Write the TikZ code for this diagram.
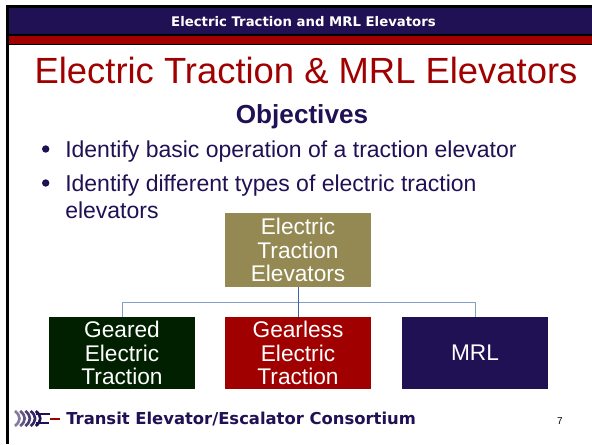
\documentclass[tikz,border=0pt]{standalone}
\usepackage{fontspec}
\setmainfont{Liberation Sans}
\newfontfamily\vfont{DejaVu Sans}
\definecolor{navy}{RGB}{32,16,84}
\definecolor{crimson}{RGB}{160,0,0}
\definecolor{olive}{RGB}{148,137,82}
\definecolor{dkgreen}{RGB}{0,32,0}
\definecolor{linklight}{RGB}{130,160,195}
\definecolor{linkdark}{RGB}{60,100,160}
\tikzset{
 x=0.75pt,y=-0.75pt,
 orgbox/.style={minimum width=109.5pt,inner sep=0pt,text=white,align=center,font=\fontsize{17}{17.8}\selectfont},
 link/.style={draw=linklight,line width=0.75pt},
 linkv/.style={draw=linkdark,line width=0.75pt},
 bodytext/.style={text=navy,font=\fontsize{17.25}{20}\selectfont,anchor=base west,inner sep=0pt}
}
\begin{document}
\begin{tikzpicture}
\useasboundingbox (0,0) rectangle (592,444);
\fill[white] (0,0) rectangle (592,444);
\fill[black] (6,5) rectangle (592,8);
\fill[black] (6,8) rectangle (9,444);
\fill[navy] (9,8) rectangle (592,34);
\fill[black] (9,34) rectangle (592,36);
\fill[crimson] (9,36) rectangle (592,44);
\fill[black] (6,44) rectangle (592,45);
\node[text=white,font=\vfont\fontsize{9.95}{11}\selectfont\bfseries] (hdr) at (303.5,22) {Electric Traction and MRL Elevators};
\node[text=crimson,font=\fontsize{27.3}{30}\selectfont,anchor=base] (ttl) at (306,83) {Electric Traction \& MRL Elevators};
\node[text=navy,font=\fontsize{19.6}{20}\selectfont\bfseries,anchor=base] (obj) at (302,123) {Objectives};
\node[bodytext] (b1) at (65,157) {Identify basic operation of a traction elevator};
\node[bodytext] (b2) at (65,191) {Identify different types of electric traction};
\node[bodytext] (b3) at (65,218) {elevators};
\fill[navy] (45.7,149) circle (3.7);
\fill[navy] (45.7,183) circle (3.7);
\node[orgbox,fill=olive,minimum height=55.5pt] (top) at (298,250) {Electric\\Traction\\Elevators};
\node[orgbox,fill=dkgreen,minimum height=54pt] (a) at (122,353) {Geared\\Electric\\Traction};
\node[orgbox,fill=crimson,minimum height=54pt] (b) at (298,353) {Gearless\\Electric\\Traction};
\node[orgbox,fill=navy,minimum height=54pt] (c) at (475,353) {MRL};
\coordinate (j) at (298,302);
\draw[link] (a.north) |- (j) -| (c.north);
\draw[linkv] (top.south) -- (b.north);
\foreach \i/\o in {0/0.55,1/0.7,2/0.8,3/0.9,4/1}{
 \draw[navy,line width=2pt,opacity=\o] (15+\i*5.2,411) .. controls (21+\i*5.2,416) and (21+\i*5.2,421) .. (15+\i*5.2,426);
}
\draw[navy,line width=1.5pt] (36,414) -- (50,414);
\draw[navy,line width=1.5pt] (36,423) -- (49,423);
\draw[crimson,line width=1.5pt] (50,419) -- (60,419);
\node[text=navy,font=\vfont\fontsize{12.3}{14}\selectfont\bfseries,anchor=base west,inner sep=0pt] (ftr) at (66,424) {Transit Elevator/Escalator Consortium};
\node[font=\fontsize{7.5}{9}\selectfont,anchor=base] (num) at (560,424) {7};
\end{tikzpicture}
\end{document}
